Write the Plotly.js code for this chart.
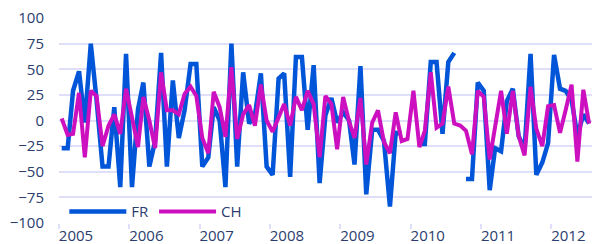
<!DOCTYPE html>
<html>
<head>
<meta charset="utf-8">
<script src="https://cdn.plot.ly/plotly-3.0.1.min.js"></script>
<style>
  html, body { margin: 0; padding: 0; background: #ffffff; }
  #chart { width: 592px; height: 244px; }
</style>
</head>
<body>
<div id="chart"></div>
<script>
// Monthly observations, Jan 2005 .. Jul 2012 (null = missing)
const startYear = 2005;
const frValues = [
  -27, -27, 29, 48, -2, 75, 20, -45, -45, 13, -65, 65,
  -65, 11, 37, -45, -20, 66, -45, 39, -17, 10, 55, 55,
  -45, -36, 13, 0, -65, 75, -45, 47, -3, 5, 46, -45,
  -53, 41, 46, -55, 62, 62, -9, 54, -61, 5, 22, -2,
  8, 0, -43, 53, -72, -9, -9, -20, -84, -12, -13, null,
  null, -23, -23, 57, 57, -13, 57, 66, null, -57, -57, 37,
  29, -68, -27, -30, 19, 31, -15, -28, 65, -53, -41, -22,
  64, 31, 29, 20, -15, 6, -3
];
const chValues = [
  2, -14, -13, 27, -36, 29, 24, -25, -5, 6, -13, 31,
  3, -26, 23, 0, -27, 47, 10, 10, 6, 26, 33, 24,
  -17, -32, 28, 13, -16, 52, -18, 6, 15, -5, 35, 0,
  -11, 3, 16, -5, 23, 10, 29, 16, -36, 24, 16, -28,
  23, -1, -17, 22, -43, -2, 10, -21, -32, 8, -20, -18,
  29, -26, -10, 47, -7, -3, 33, -3, -5, -10, -33, 29,
  23, -38, -8, 29, -13, 29, -15, -34, 33, -8, -25, 14,
  15, -12, 10, 35, -40, 30, -3
];
const seriesNames = ["FR", "CH"];
const yearTicks = ["2005-01-01","2006-01-01","2007-01-01","2008-01-01","2009-01-01","2010-01-01","2011-01-01","2012-01-01"];
const yearLabels = ["2005","2006","2007","2008","2009","2010","2011","2012"];
const yTicks = [-100, -75, -50, -25, 0, 25, 50, 75, 100];

// mid-month dates
const months = frValues.map((_, i) => {
  const y = startYear + Math.floor(i / 12);
  const m = (i % 12) + 1;
  return y + "-" + String(m).padStart(2, "0") + "-15";
});

const textColor = "#2a3d6e";
const gridColor = "#dfdff9";

const traces = [
  {
    x: months, y: frValues, name: seriesNames[0], type: "scatter", mode: "lines",
    line: { color: "#0055d8", width: 4.5 }, connectgaps: false
  },
  {
    x: months, y: chValues, name: seriesNames[1], type: "scatter", mode: "lines",
    line: { color: "#cc10c0", width: 4 }, connectgaps: false
  }
];

const layout = {
  width: 592, height: 244,
  margin: { l: 59, r: 0, t: 18, b: 21 },
  paper_bgcolor: "#ffffff", plot_bgcolor: "#ffffff",
  font: { family: "Open Sans, sans-serif", size: 15, color: textColor },
  showlegend: true,
  legend: {
    orientation: "h", x: 0.01, xanchor: "left", y: -0.025, yanchor: "bottom",
    bgcolor: "rgba(0,0,0,0)", itemwidth: 57,
    font: { size: 15, color: textColor }
  },
  xaxis: {
    type: "date",
    range: ["2005-01-01", "2012-07-30"],
    tickmode: "array", tickvals: yearTicks, ticktext: yearLabels,
    showgrid: false, zeroline: false, showline: false,
    ticks: "outside", ticklen: 5, tickwidth: 2, tickcolor: gridColor,
    ticklabelshift: 17, ticklabelstandoff: -6,
    tickfont: { size: 15, color: textColor }
  },
  yaxis: {
    range: [-100, 100],
    tickmode: "array", tickvals: yTicks,
    showgrid: true, gridcolor: gridColor, gridwidth: 2,
    zeroline: false, showline: false, ticks: "",
    ticklabelstandoff: 14,
    tickfont: { size: 15, color: textColor }
  }
};

Plotly.newPlot("chart", traces, layout, { displayModeBar: false, staticPlot: true });
</script>
</body>
</html>
